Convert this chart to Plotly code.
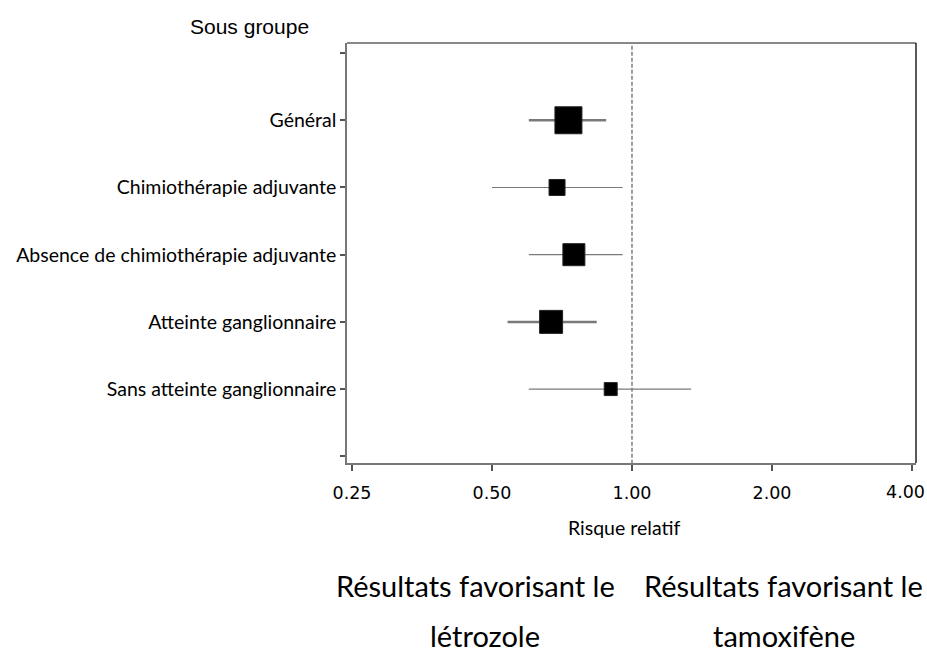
import math
import plotly.graph_objects as go

labels = ["Général", "Chimiothérapie adjuvante", "Absence de chimiothérapie adjuvante",
          "Atteinte ganglionnaire", "Sans atteinte ganglionnaire"]
rr = [0.73, 0.69, 0.75, 0.67, 0.90]
ci_low = [0.60, 0.50, 0.60, 0.54, 0.60]
ci_high = [0.88, 0.955, 0.955, 0.84, 1.34]
box_size = [27, 16, 22, 23, 13]
ci_width = [2.5, 1.2, 1.2, 2.5, 1.2]
x_ticks = [0.25, 0.5, 1, 2, 4]
x_ticktext = ["0.25", "0.50", "1.00", "2.00", "4.00"]

W, H = 927, 653
L, R, T, B = 347, 916, 43, 463

fig = go.Figure()
pos = list(range(1, len(labels) + 1))

fig.add_trace(go.Scatter(x=[1, 1], y=[-0.2, 6.2], mode="lines",
                         line=dict(color="#858585", width=1.6, dash="4px,2px"),
                         hoverinfo="skip", showlegend=False))
for i, p in enumerate(pos):
    fig.add_trace(go.Scatter(x=[ci_low[i], ci_high[i]], y=[p, p], mode="lines",
                             line=dict(color="#7a7a7a", width=ci_width[i]),
                             showlegend=False))
fig.add_trace(go.Scatter(x=rr, y=pos, mode="markers",
                         marker=dict(symbol="square", size=box_size, color="black",
                                     opacity=1, line=dict(color="#222222", width=1)),
                         showlegend=False))

tick_font = dict(family="DejaVu Sans", size=17.5, color="black")
# last tick label drawn as annotation so it stays inside the page
shown_ticktext = x_ticktext[:-1] + [""]

fig.update_layout(
    width=W, height=H,
    margin=dict(l=L, r=W - R, t=T, b=H - B, autoexpand=False),
    paper_bgcolor="white", plot_bgcolor="white",
    font=dict(family="Lato", color="black"),
    xaxis=dict(type="log", range=[-0.6128, 0.6107], tickvals=x_ticks, ticktext=shown_ticktext,
               ticks="outside", ticklen=6, tickwidth=1.5, tickcolor="#555555",
               showline=True, linecolor="#777777", linewidth=1.5, mirror=False,
               showgrid=False, zeroline=False, ticklabeloverflow="allow",
               ticklabelstandoff=7, automargin=False,
               tickfont=tick_font),
    yaxis=dict(range=[6.1, -0.15], tickvals=list(range(0, 7)),
               ticktext=[""] + labels + [""],
               ticks="outside", ticklen=5, tickwidth=1.5, tickcolor="#555555",
               showline=True, linecolor="#777777", linewidth=1.5,
               showgrid=False, zeroline=False, automargin=False,
               tickfont=dict(family="Lato", size=19.5, color="black")),
)

fig.add_shape(type="line", xref="paper", yref="paper", x0=0, x1=1, y0=1, y1=1,
              line=dict(color="#888888", width=2))
fig.add_shape(type="line", xref="paper", yref="paper", x0=1, x1=1, y0=0, y1=1,
              line=dict(color="#222222", width=1.5))

def px(x):
    return (x - L) / (R - L)

def py(y):
    return (B - y) / (B - T)

fig.add_annotation(x=math.log10(x_ticks[-1]), xref="x", y=py(492), yref="paper",
                   text=x_ticktext[-1], showarrow=False, font=tick_font,
                   xanchor="right", xshift=15, yanchor="middle")

fig.add_annotation(x=px(624), y=py(527), xref="paper", yref="paper", text="Risque relatif",
                   showarrow=False, font=dict(family="Lato", size=19.5), xanchor="center", yanchor="middle")
fig.add_annotation(x=px(188), y=py(27), xref="paper", yref="paper", text="Sous groupe",
                   showarrow=False, font=dict(family="Liberation Sans", size=21), xanchor="left", yanchor="middle")
for txt, cx, cy in [("Résultats favorisant le", 475, 585), ("létrozole", 485, 635),
                    ("Résultats favorisant le", 783, 585), ("tamoxifène", 784, 635)]:
    fig.add_annotation(x=px(cx), y=py(cy), xref="paper", yref="paper", text=txt,
                       showarrow=False, font=dict(family="Lato", size=29),
                       xanchor="center", yanchor="middle")

fig.write_html("out.html", config={"displayModeBar": False},
               post_script="document.body.style.margin='0';document.body.style.overflow='hidden';")
